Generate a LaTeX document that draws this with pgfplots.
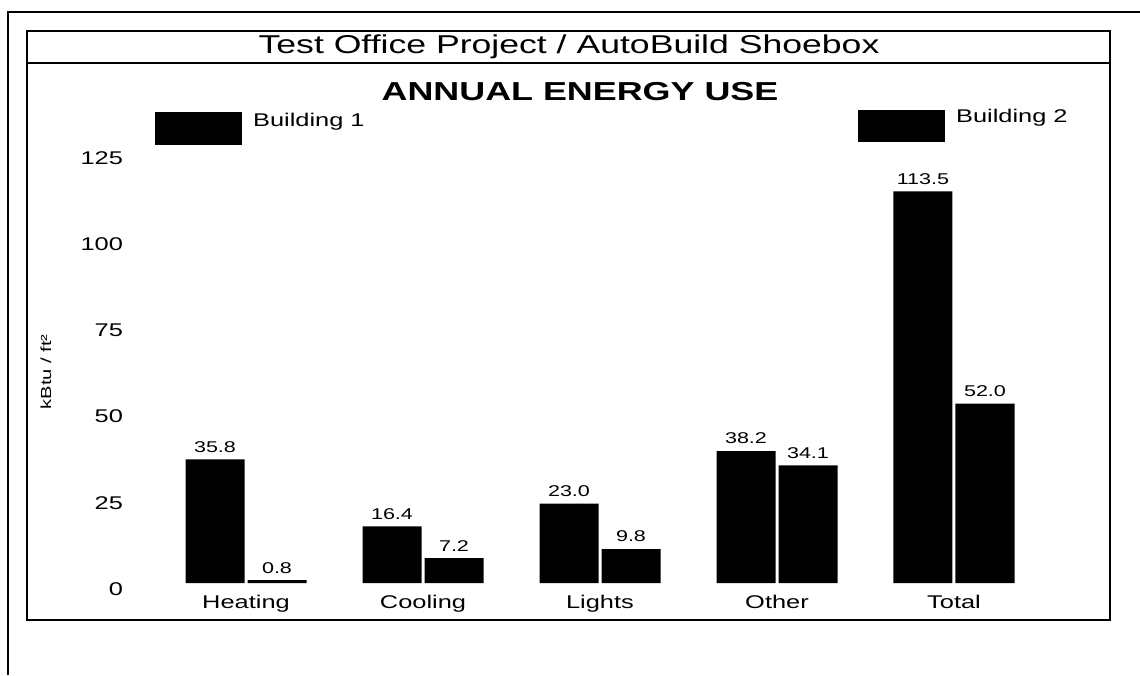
\documentclass[border=0pt]{standalone}
\usepackage{fontspec}
\setmainfont[FakeStretch=1.38]{Liberation Sans}
\usepackage{pgfplots}
\pgfplotsset{compat=1.18}
\begin{document}
\begin{tikzpicture}
\begin{scope}[x=0.5pt,y=-0.5pt,shift={(0pt,337.5pt)}]
\useasboundingbox (0,0) rectangle (1140,675);
\draw[line width=1.3pt] (8,675) -- (8,12) -- (1140,12);
\draw[line width=0.8pt] (27,31) rectangle (1110,620);
\draw[line width=1.2pt] (27,63) -- (1110,63);
\node[font=\fontsize{12.9}{14}\selectfont] at (569,47) {Test Office Project / AutoBuild Shoebox};
\node[font=\bfseries\fontsize{13}{15}\selectfont] at (580,92) {ANNUAL ENERGY USE};
\fill (155,112) rectangle (242,145);
\node[anchor=west, font=\fontsize{9.2}{12}\selectfont] at (246,122) {Building 1};
\fill (858,110) rectangle (945,142);
\node[anchor=west, font=\fontsize{9.2}{12}\selectfont] at (949,118) {Building 2};
\node[rotate=90, font=\fontsize{7.3}{8}\selectfont] at (46,372) {kBtu / ft²};
\end{scope}
\begin{axis}[
  at={(65pt,46pt)}, anchor=south west,
  scale only axis, width=485pt, height=221.5pt,
  xmin=-0.6554, xmax=4.8249, ymin=0, ymax=128.4,
  ybar=1.5pt, bar width=29.5pt,
  axis line style={draw=none}, major tick length=0pt,
  xtick={0,1,2,3,4}, xticklabels={Heating,Cooling,Lights,Other,Total},
  ytick={0,25,50,75,100,125},
  /pgf/number format/assume math mode=true,
  ticklabel style={font=\fontsize{9.2}{10}\selectfont},
  yticklabel style={yshift=-3pt},
  xticklabel style={yshift=-2.5pt},
  nodes near coords={\pgfmathprintnumber[fixed,fixed zerofill,precision=1,assume math mode=true]{\pgfplotspointmeta}},
  every node near coord/.append style={font=\fontsize{7.8}{9}\selectfont},
  clip=false,
]
\addplot[fill=black, draw=none] coordinates {(0,35.8) (1,16.4) (2,23.0) (3,38.2) (4,113.5)};
\addplot[fill=black, draw=none] coordinates {(0,0.8) (1,7.2) (2,9.8) (3,34.1) (4,52.0)};
\end{axis}
\end{tikzpicture}
\end{document}
